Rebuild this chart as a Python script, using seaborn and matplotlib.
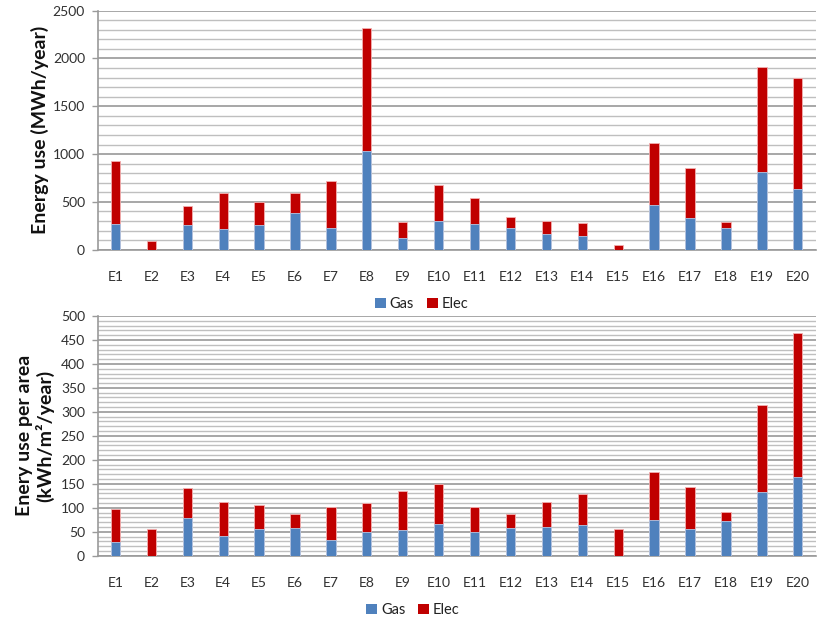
import matplotlib
matplotlib.use("Agg")
import matplotlib.pyplot as plt
from matplotlib.patches import Patch
from matplotlib.ticker import MultipleLocator
import seaborn as sns
import pandas as pd

sites = [f"E{i}" for i in range(1, 21)]

# Annual energy use, MWh/year
gas_total = [265, 0, 255, 220, 255, 380, 230, 1032, 119, 300,
             265, 230, 164, 139, 0, 471, 335, 230, 812, 631]
all_total = [928, 94, 460, 589, 499, 589, 722, 2319, 293, 676,
             540, 345, 300, 275, 49, 1112, 858, 293, 1911, 1796]

# Energy use intensity, kWh/m2/year
gas_area = [28, 0, 78, 42, 55, 58, 33, 49, 54, 67,
            49, 58, 59, 64, 0, 74, 56, 72, 133, 164]
all_area = [97, 55, 142, 113, 105, 88, 101, 110, 135, 149,
            101, 87, 112, 129, 55, 174, 144, 92, 315, 465]

series = ["Gas", "Elec"]
BLUE = "#4F81BD"
RED = "#C00000"

sns.set_theme(style="white")
plt.rcParams["font.family"] = ["Lato", "DejaVu Sans"]

fig = plt.figure(figsize=(8.17, 6.19), dpi=100)
W, H = 817, 619


def axes_px(left, top, right, bottom):
    return fig.add_axes([left / W, 1 - bottom / H, (right - left) / W, (bottom - top) / H])


def panel(ax, gas, total, ymax, major, minor, ylabel, label_x):
    df = pd.DataFrame({"site": sites, "gas": gas, "total": total})
    sns.barplot(data=df, x="site", y="total", color=RED, width=0.26,
                saturation=1, edgecolor="#f2b0b0", linewidth=0.6, ax=ax, zorder=3)
    sns.barplot(data=df, x="site", y="gas", color=BLUE, width=0.26,
                saturation=1, edgecolor="#b4c8e4", linewidth=0.6, ax=ax, zorder=4)
    ax.set_xlim(-0.5, len(sites) - 0.5)
    ax.set_ylim(0, ymax)
    ax.yaxis.set_major_locator(MultipleLocator(major))
    ax.yaxis.set_minor_locator(MultipleLocator(minor))
    ax.grid(which="major", axis="y", color="#a0a0a0", linewidth=1.3, zorder=0)
    ax.grid(which="minor", axis="y", color="#bfbfbf", linewidth=1.0, zorder=0)
    ax.set_axisbelow(True)
    for s in ["top", "right"]:
        ax.spines[s].set_visible(False)
    for s in ["left", "bottom"]:
        ax.spines[s].set_color("#9a9a9a")
        ax.spines[s].set_linewidth(1.2)
    ax.tick_params(axis="y", which="major", left=True, length=4, width=1,
                   color="#9a9a9a", labelsize=10, labelcolor="#303030", pad=5)
    ax.tick_params(axis="y", which="minor", left=False)
    ax.tick_params(axis="x", bottom=False, labelsize=10, labelcolor="#303030", pad=9)
    ax.set_xlabel("")
    ax.set_ylabel("")
    fig.text(label_x, ax.get_position().y0 + ax.get_position().height / 2, ylabel,
             rotation=90, ha="center", va="center", fontsize=14, fontweight="bold",
             color="#111111", linespacing=1.15)


ax1 = axes_px(97.5, 10.7, 815.7, 249.7)
panel(ax1, gas_total, all_total, 2500, 500, 100, "Energy use (MWh/year)", 40 / W)

ax2 = axes_px(97.5, 316, 815.7, 555.7)
panel(ax2, gas_area, all_area, 500, 50, 10, "Enery use per area\n(kWh/m²/year)", 35 / W)

handles = [Patch(facecolor=BLUE, edgecolor="none"), Patch(facecolor=RED, edgecolor="none")]
for yc, xc in [(304, 422), (610, 413)]:
    fig.legend(handles, series, loc="center", bbox_to_anchor=(xc / W, 1 - yc / H),
               ncol=2, frameon=False, fontsize=10.5, handlelength=0.7, handleheight=0.7,
               handletextpad=0.3, columnspacing=0.9, labelcolor="#222222")

fig.savefig("out.png", dpi=100)
